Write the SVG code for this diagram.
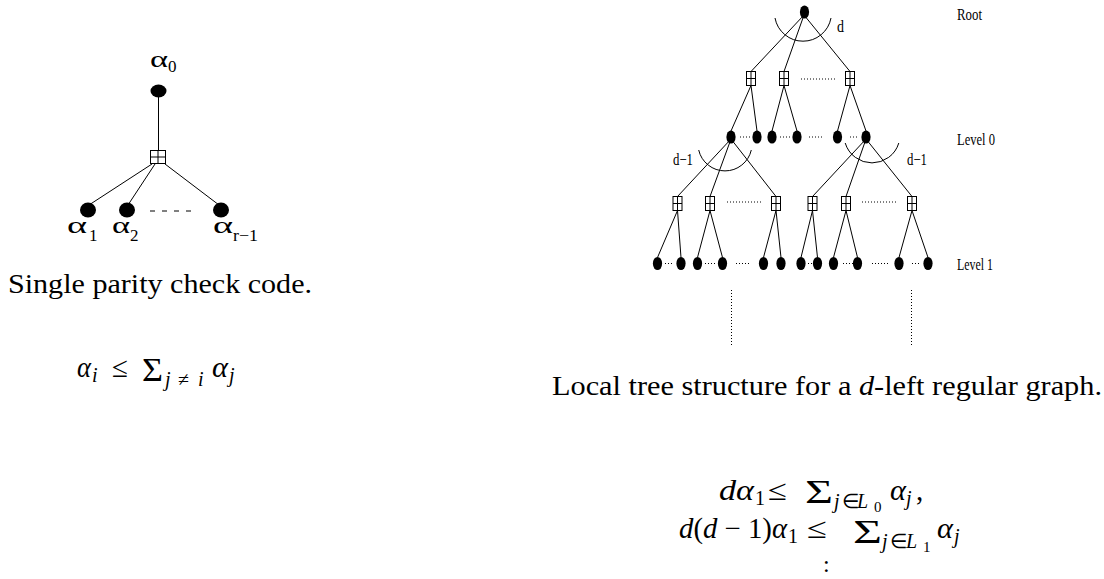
<svg xmlns="http://www.w3.org/2000/svg" width="1104" height="579" viewBox="0 0 1104 579">
<style>
.ln{stroke:#000;stroke-width:1;fill:none}
.dt{stroke:#000;stroke-width:1;stroke-dasharray:1 2;fill:none}
.vn{fill:#000}
.t{font-family:"Liberation Serif","Times New Roman",serif;fill:#000}
.it{font-style:italic}
.lbl{font-family:"Liberation Serif","Times New Roman",serif;font-size:17px;fill:#000}
</style>
<defs>
<g id="chk"><rect x="-4.5" y="-7" width="9" height="14" fill="#fff" stroke="#000" stroke-width="1"/><path d="M-4.5 0H4.5M0 -7V7" stroke="#000" stroke-width="1"/></g>
<ellipse id="var" rx="4.6" ry="6.6" fill="#000"/>
</defs>
<rect width="1104" height="579" fill="#fff"/>

<!-- connectors -->
<g id="connectors">
  <!-- left diagram -->
  <path class="ln" d="M158.5 97V150M152 164L89 205M155 164L128 205M165 164L219 205"/>
  <path class="ln" d="M150 211H196" stroke-dasharray="5 7"/>
  <!-- tree: root to checks -->
  <path class="ln" d="M804 15L751 71.5M804 15L784 71.5M804 15L850 71.5"/>
  <!-- checks to level 0 -->
  <path class="ln" d="M751 85.5L731 131M751 85.5L757 131M784 85.5L772 131M784 85.5L797 131M850 85.5L837.5 131M850 85.5L866 131"/>
  <!-- level 0 to checks -->
  <path class="ln" d="M731 139L677.5 196.5M731 139L710 196.5M731 139L776 196.5M866 139L812.5 196.5M866 139L846 196.5M866 139L912 196.5"/>
  <!-- checks to level 1 -->
  <path class="ln" d="M677.5 210.5L657.5 257.5M677.5 210.5L681 257.5M710 210.5L697.5 257.5M710 210.5L722.5 257.5M776 210.5L763.5 257.5M776 210.5L781 257.5M812.5 210.5L801 257.5M812.5 210.5L817.5 257.5M846 210.5L833.5 257.5M846 210.5L857.5 257.5M912 210.5L899 257.5M912 210.5L928 257.5"/>
  <!-- arcs -->
  <path class="ln" d="M775 18A28.5 28.5 0 0 0 831 18"/>
  <path class="ln" d="M698.7 150A27 27 0 0 0 751.3 150"/>
  <path class="ln" d="M845.2 143A28 28 0 0 0 898.8 143"/>
  <!-- dotted ellipses -->
  <path class="dt" d="M801 79H836M727 202H763M862 202H898"/>
  <path class="dt" d="M740 137H751M780 137H791M809 137H824M850 137H859"/>
  <path class="dt" d="M665 263.5H674M705 263.5H716M736 263.5H751M808 263.5H812M843 263.5H853M872 263.5H888M912 263.5H921"/>
  <path class="dt" d="M731.5 290V347M911.5 290V347" stroke-dasharray="1 3"/>
</g>

<!-- left diagram nodes -->
<g id="a0"><ellipse cx="158.5" cy="91" rx="8" ry="6.5" class="vn"/></g>
<g id="chk-left"><rect x="150.5" y="150.5" width="15" height="13" fill="#fff" stroke="#000"/><path class="ln" d="M150.5 157H165.5M158 150.5V163.5"/></g>
<g id="a1"><ellipse cx="88" cy="210" rx="8" ry="7.5" class="vn"/></g>
<g id="a2"><ellipse cx="127" cy="210" rx="8" ry="7.5" class="vn"/></g>
<g id="ar1"><ellipse cx="221" cy="210" rx="8" ry="7.5" class="vn"/></g>

<!-- tree nodes -->
<g id="root"><ellipse cx="804.5" cy="12" rx="4.6" ry="6.6" class="vn"/></g>
<g id="c0-1"><use href="#chk" x="751" y="78.5"/></g>
<g id="c0-2"><use href="#chk" x="784" y="78.5"/></g>
<g id="c0-3"><use href="#chk" x="850" y="78.5"/></g>
<g id="v0-1"><use href="#var" x="731" y="137"/></g>
<g id="v0-2"><use href="#var" x="757" y="137"/></g>
<g id="v0-3"><use href="#var" x="772" y="137"/></g>
<g id="v0-4"><use href="#var" x="797" y="137"/></g>
<g id="v0-5"><use href="#var" x="837.5" y="137"/></g>
<g id="v0-6"><use href="#var" x="866" y="137"/></g>
<g id="c1-1"><use href="#chk" x="677.5" y="203.5"/></g>
<g id="c1-2"><use href="#chk" x="710" y="203.5"/></g>
<g id="c1-3"><use href="#chk" x="776" y="203.5"/></g>
<g id="c1-4"><use href="#chk" x="812.5" y="203.5"/></g>
<g id="c1-5"><use href="#chk" x="846" y="203.5"/></g>
<g id="c1-6"><use href="#chk" x="912" y="203.5"/></g>
<g id="v1-1"><use href="#var" x="657.5" y="263.5"/></g>
<g id="v1-2"><use href="#var" x="681" y="263.5"/></g>
<g id="v1-3"><use href="#var" x="697.5" y="263.5"/></g>
<g id="v1-4"><use href="#var" x="722.5" y="263.5"/></g>
<g id="v1-5"><use href="#var" x="763.5" y="263.5"/></g>
<g id="v1-6"><use href="#var" x="781" y="263.5"/></g>
<g id="v1-7"><use href="#var" x="801" y="263.5"/></g>
<g id="v1-8"><use href="#var" x="817.5" y="263.5"/></g>
<g id="v1-9"><use href="#var" x="833.5" y="263.5"/></g>
<g id="v1-10"><use href="#var" x="857.5" y="263.5"/></g>
<g id="v1-11"><use href="#var" x="899" y="263.5"/></g>
<g id="v1-12"><use href="#var" x="928" y="263.5"/></g>

<!-- labels left -->
<g id="labels-left" class="t">
  <text x="150" y="67" font-size="24" textLength="18" lengthAdjust="spacingAndGlyphs">α</text>
  <text x="168" y="72" font-size="17">0</text>
  <text x="67" y="233" font-size="24" textLength="20" lengthAdjust="spacingAndGlyphs">α</text>
  <text x="89" y="241" font-size="17">1</text>
  <text x="112" y="233" font-size="24" textLength="18" lengthAdjust="spacingAndGlyphs">α</text>
  <text x="130" y="241" font-size="17">2</text>
  <text x="213" y="233" font-size="24" textLength="20" lengthAdjust="spacingAndGlyphs">α</text>
  <text x="233" y="241" font-size="17" textLength="25" lengthAdjust="spacingAndGlyphs">r−1</text>
</g>

<!-- labels tree -->
<g id="labels-tree" class="lbl">
  <text x="837" y="32" textLength="7" lengthAdjust="spacingAndGlyphs">d</text>
  <text x="673" y="165" textLength="20" lengthAdjust="spacingAndGlyphs">d−1</text>
  <text x="907" y="165" textLength="20" lengthAdjust="spacingAndGlyphs">d−1</text>
  <text x="957" y="20" textLength="25" lengthAdjust="spacingAndGlyphs">Root</text>
  <text x="957" y="145" textLength="38" lengthAdjust="spacingAndGlyphs">Level 0</text>
  <text x="957" y="270" textLength="36" lengthAdjust="spacingAndGlyphs">Level 1</text>
</g>

<!-- captions -->
<text class="t" x="8" y="293" font-size="27" textLength="304" lengthAdjust="spacingAndGlyphs">Single parity check code.</text>
<text class="t" x="552" y="395" font-size="27" textLength="550" lengthAdjust="spacingAndGlyphs">Local tree structure for a <tspan class="it">d</tspan>-left regular graph.</text>

<!-- formula left -->
<g id="formula-left" class="t" font-size="29">
  <text x="77" y="377" class="it" textLength="14" lengthAdjust="spacingAndGlyphs">α</text>
  <text x="92" y="382" class="it" font-size="20">i</text>
  <text x="112" y="377" textLength="16" lengthAdjust="spacingAndGlyphs">≤</text>
  <text x="142" y="381" font-size="34" textLength="21" lengthAdjust="spacingAndGlyphs">Σ</text>
  <text x="165" y="386" class="it" font-size="20">j</text>
  <text x="178" y="386" font-size="20">≠</text>
  <text x="198" y="386" class="it" font-size="20">i</text>
  <text x="212" y="377" class="it" textLength="16" lengthAdjust="spacingAndGlyphs">α</text>
  <text x="229" y="382" class="it" font-size="20">j</text>
</g>

<!-- formulas right -->
<g id="formula-right" class="t" font-size="29">
  <text x="719" y="500" class="it" textLength="35" lengthAdjust="spacingAndGlyphs">dα</text>
  <text x="755" y="505" font-size="20">1</text>
  <text x="768" y="500" textLength="19" lengthAdjust="spacingAndGlyphs">≤</text>
  <text x="805" y="503" font-size="34" textLength="28" lengthAdjust="spacingAndGlyphs">Σ</text>
  <text x="834" y="508" class="it" font-size="20">j</text>
  <text x="842" y="508" font-size="20">∈</text>
  <text x="857" y="508" class="it" font-size="20">L</text>
  <text x="874" y="512" font-size="15">0</text>
  <text x="890" y="500" class="it" textLength="16" lengthAdjust="spacingAndGlyphs">α</text>
  <text x="906" y="505" class="it" font-size="20">j</text>
  <text x="916" y="500">,</text>

  <text x="679" y="538" textLength="108" lengthAdjust="spacingAndGlyphs"><tspan class="it">d</tspan>(<tspan class="it">d</tspan> − 1)<tspan class="it">α</tspan></text>
  <text x="788" y="543" font-size="20">1</text>
  <text x="807" y="538" textLength="20" lengthAdjust="spacingAndGlyphs">≤</text>
  <text x="853" y="543" font-size="34" textLength="29" lengthAdjust="spacingAndGlyphs">Σ</text>
  <text x="882" y="548" class="it" font-size="20">j</text>
  <text x="890" y="548" font-size="20">∈</text>
  <text x="906" y="548" class="it" font-size="20">L</text>
  <text x="923" y="552" font-size="15">1</text>
  <text x="937" y="538" class="it" textLength="16" lengthAdjust="spacingAndGlyphs">α</text>
  <text x="954" y="543" class="it" font-size="20">j</text>

  <text x="823" y="572" font-size="24">:</text>
</g>
</svg>
